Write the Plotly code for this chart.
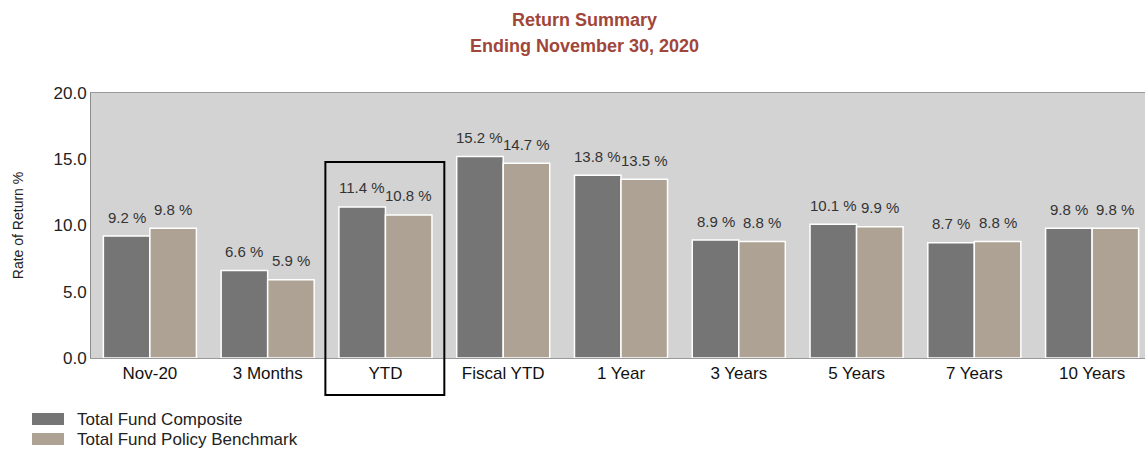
import plotly.graph_objects as go

categories = ["Nov-20", "3 Months", "YTD", "Fiscal YTD", "1 Year", "3 Years", "5 Years", "7 Years", "10 Years"]
composite = [9.2, 6.6, 11.4, 15.2, 13.8, 8.9, 10.1, 8.7, 9.8]
benchmark = [9.8, 5.9, 10.8, 14.7, 13.5, 8.8, 9.9, 8.8, 9.8]
series_names = ["Total Fund Composite", "Total Fund Policy Benchmark"]
series_colors = ["#757575", "#ada293"]
y_ticks = [0, 5, 10, 15, 20]

FONT = "Liberation Sans, Arial, sans-serif"

W, H = 1151, 451
PL, PT, PB, PR = 91, 93, 358, 1151  # plot area in page pixels (runs past right edge)
PW, PH = PR - PL, PB - PT


def px(xp):
    return (xp - PL) / PW


def py(yp):
    return (PB - yp) / PH


fig = go.Figure()
for name, vals, col in zip(series_names, [composite, benchmark], series_colors):
    fig.add_trace(go.Bar(
        x=categories, y=vals, name=name,
        marker=dict(color=col, line=dict(color="white", width=1.5)),
        showlegend=False,
    ))

# value labels above bars
bar_half = PW / len(categories) * (1 - 0.21) / 4
for shift, vals in [(-bar_half, composite), (bar_half, benchmark)]:
    for c, v in zip(categories, vals):
        fig.add_annotation(x=c, y=v, text=f"{v:.1f} %", showarrow=False,
                           xshift=shift, yshift=19, xanchor="center", yanchor="middle",
                           font=dict(family=FONT, size=15, color="#333333"))

fig.update_layout(
    width=W, height=H,
    margin=dict(l=PL, r=W - PR, t=PT, b=H - PB),
    paper_bgcolor="white",
    plot_bgcolor="#d3d3d3",
    barmode="group",
    bargap=0.21,
    bargroupgap=0.0,
    font=dict(family=FONT, color="#222222"),
    xaxis=dict(
        showgrid=False, showline=True, linecolor="#9a9a9a", linewidth=1, mirror=True,
        tickfont=dict(family=FONT, size=17, color="#111111"),
        ticks="", ticklen=0,
    ),
    yaxis=dict(
        range=[0, 20], tickvals=y_ticks, tickformat=".1f",
        showgrid=False, zeroline=False,
        showline=True, linecolor="#8c8c8c", linewidth=1,
        tickfont=dict(family=FONT, size=17, color="#222222"),
        title=dict(text="Rate of Return %", font=dict(family=FONT, size=14, color="#222222"), standoff=26),
    ),
)

# Title
for txt, yy in [("<b>Return Summary</b>", 20), ("<b>Ending November 30, 2020</b>", 46)]:
    fig.add_annotation(text=txt, xref="paper", yref="paper",
                       x=px(584), y=py(yy), showarrow=False,
                       font=dict(family=FONT, size=18, color="#a0463a"),
                       xanchor="center", yanchor="middle")

# Highlight box around YTD
fig.add_shape(type="rect", xref="x", yref="paper", x0=1.49, x1=2.5,
              y0=py(395), y1=py(162),
              line=dict(color="black", width=2), fillcolor="rgba(0,0,0,0)", layer="above")

# Custom legend
for i, (name, col) in enumerate(zip(series_names, series_colors)):
    yc = 419 + i * 20
    fig.add_shape(type="rect", xref="paper", yref="paper",
                  x0=px(32), x1=px(64), y0=py(yc + 6), y1=py(yc - 6),
                  line=dict(width=0), fillcolor=col)
    fig.add_annotation(text=name, xref="paper", yref="paper",
                       x=px(75), y=py(yc), showarrow=False,
                       xanchor="left", yanchor="middle",
                       font=dict(family=FONT, size=17, color="#222222"))

fig.write_html("out.html",
               config={"displayModeBar": False},
               post_script="document.body.style.margin='0';document.body.style.overflow='hidden';")
